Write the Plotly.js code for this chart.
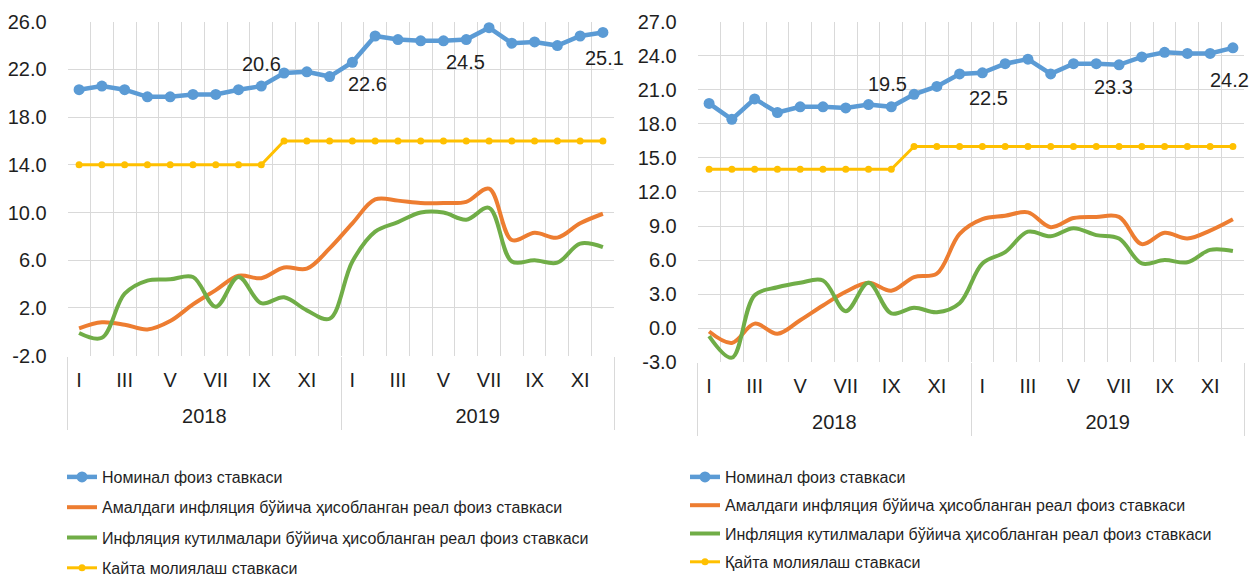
<!DOCTYPE html>
<html><head><meta charset="utf-8">
<script src="https://cdn.plot.ly/plotly-3.0.1.min.js"></script>
<style>html,body{margin:0;padding:0;background:#fff}#chart{width:1251px;height:578px}</style>
</head><body><div id="chart"></div>
<script>
// ---- data ----
const months = ['I','II','III','IV','V','VI','VII','VIII','IX','X','XI','XII'];
const years = ['2018','2019'];
const seriesNames = [
  'Номинал фоиз ставкаси',
  'Амалдаги инфляция бўйича ҳисобланган реал фоиз ставкаси',
  'Инфляция кутилмалари бўйича ҳисобланган реал фоиз ставкаси',
  'Қайта молиялаш ставкаси'
];
const seriesNamesL = [
  'Номинал фоиз ставкаси',
  'Амалдаги инфляция бўйича ҳисобланган реал фоиз ставкаси',
  'Инфляция кутилмалари бўйича ҳисобланган реал фоиз ставкаси',
  'Кайта молиялаш ставкаси'
];
// Left chart
const nominalL  = [20.3,20.6,20.3,19.7,19.7,19.9,19.9,20.3,20.6,21.7,21.8,21.4, 22.6,24.8,24.5,24.4,24.4,24.5,25.5,24.2,24.3,24.0,24.8,25.1];
const actualL   = [0.3,0.8,0.6,0.2,0.9,2.3,3.5,4.7,4.5,5.4,5.3,7.0, 9.1,11.1,11.0,10.8,10.8,10.9,12.0,7.7,8.3,7.9,9.1,9.9];
const expectL   = [-0.1,-0.5,3.2,4.3,4.4,4.6,2.1,4.6,2.4,2.9,1.8,1.1, 5.9,8.4,9.2,10.0,10.0,9.4,10.4,5.9,6.0,5.8,7.4,7.1];
const refiL     = [14,14,14,14,14,14,14,14,14,16,16,16, 16,16,16,16,16,16,16,16,16,16,16,16];
// Right chart
const nominalR  = [19.8,18.4,20.2,19.0,19.5,19.5,19.4,19.7,19.5,20.6,21.3,22.4, 22.5,23.3,23.7,22.4,23.3,23.3,23.2,23.9,24.3,24.2,24.2,24.7];
const actualR   = [-0.3,-1.3,0.4,-0.5,0.7,2.0,3.2,4.0,3.3,4.5,4.8,8.3, 9.6,9.9,10.2,8.9,9.7,9.8,9.8,7.4,8.4,7.9,8.6,9.6];
const expectR   = [-0.7,-2.6,2.9,3.6,4.0,4.2,1.5,4.0,1.3,1.8,1.4,2.2, 5.7,6.7,8.5,8.1,8.8,8.2,7.9,5.7,6.0,5.8,6.9,6.8];
const refiR     = [14,14,14,14,14,14,14,14,14,16,16,16, 16,16,16,16,16,16,16,16,16,16,16,16];
// data labels: [index, text]
const labelsL = [[8,'20.6'],[12,'22.6'],[17,'24.5'],[23,'25.1']];
const labelsR = [[8,'19.5'],[12,'22.5'],[18,'23.3'],[23,'24.2']];
const yTicksL = [-2,2,6,10,14,18,22,26];
const yTicksR = [-3,0,3,6,9,12,15,18,21,24,27];

// ---- build ----
const categories = [];
years.forEach(y => months.forEach(m => categories.push(m + ' ' + y)));
const xi = categories.map((_, i) => i);
const N = categories.length;
const gridVals = [];
for (let i = 0; i <= N; i++) gridVals.push(i - 0.5);
const monthVals = xi.filter(i => i % 2 === 0);
const monthText = monthVals.map(i => months[i % 12]);
const yearVals = years.map((_, k) => k * 12 + 5.5);
const sepVals = [-0.5].concat(years.map((_, k) => (k + 1) * 12 - 0.5));

const C = {blue:'#5B9BD5', orange:'#ED7D31', green:'#70AD47', yellow:'#FFC000'};
const GRID = '#d9d9d9';
const TXT = '#1f1f1f';
const FONT = 'Liberation Sans, Arial, sans-serif';

function tracesFor(xa, ya, leg, nom, act, exp, refi, names) {
  return [
    {x: xi, y: nom, name: names[0], xaxis: xa, yaxis: ya, legend: leg, legendgroup: leg+'a',
     mode: 'lines+markers', line: {color: C.blue, width: 4.5}, marker: {color: C.blue, size: 11}},
    {x: xi, y: act, name: names[1], xaxis: xa, yaxis: ya, legend: leg, legendgroup: leg+'b',
     mode: 'lines', line: {color: C.orange, width: 4, shape: 'spline', smoothing: 1}},
    {x: xi, y: exp, name: names[2], xaxis: xa, yaxis: ya, legend: leg, legendgroup: leg+'c',
     mode: 'lines', line: {color: C.green, width: 4, shape: 'spline', smoothing: 1}},
    {x: xi, y: refi, name: names[3], xaxis: xa, yaxis: ya, legend: leg, legendgroup: leg+'d',
     mode: 'lines+markers', line: {color: C.yellow, width: 3}, marker: {color: C.yellow, size: 7}}
  ];
}
// invisible carrier traces so that the overlaying label axes are drawn
function carrier(xa, ya) {
  return {x: xi, y: xi.map(() => null), xaxis: xa, yaxis: ya, mode: 'lines',
    showlegend: false, hoverinfo: 'skip', line: {color: 'rgba(0,0,0,0)'}};
}

const data = [].concat(
  tracesFor('x', 'y', 'legend', nominalL, actualL, expectL, refiL, seriesNamesL),
  tracesFor('x2', 'y2', 'legend2', nominalR, actualR, expectR, refiR, seriesNames),
  [carrier('x3', 'y'), carrier('x5', 'y'), carrier('x4', 'y2'), carrier('x6', 'y2')]
);

const xr = [-0.5, N - 0.5];
function mainX(domain, anchor) {
  return {domain: domain, anchor: anchor, range: xr, autorange: false, tickmode: 'array', tickvals: gridVals,
    showticklabels: false, ticks: '', showgrid: true, gridcolor: GRID, gridwidth: 1, zeroline: false, showline: false, fixedrange: true};
}
function monthX(domain, over, anchor) {
  return {domain: domain, overlaying: over, anchor: anchor, side: 'bottom', range: xr, autorange: false,
    tickmode: 'array', tickvals: monthVals, ticktext: monthText, ticks: 'outside', ticklen: 6,
    tickcolor: 'rgba(0,0,0,0)', showgrid: false, zeroline: false, showline: false,
    tickfont: {size: 20, color: TXT, family: FONT}};
}
function yearX(domain, over, anchor) {
  return {domain: domain, overlaying: over, anchor: anchor, side: 'bottom', range: xr, autorange: false,
    tickmode: 'array', tickvals: yearVals, ticktext: years, ticks: 'outside', ticklen: 42,
    tickcolor: 'rgba(0,0,0,0)', showgrid: false, zeroline: false, showline: false,
    tickfont: {size: 20, color: TXT, family: FONT},
    minor: {tickmode: 'array', tickvals: sepVals, ticks: 'outside', ticklen: 73, tickcolor: GRID, tickwidth: 1, showgrid: false}};
}
function yAx(domain, anchor, ticks) {
  return {domain: domain, anchor: anchor, range: [ticks[0], ticks[ticks.length-1]], autorange: false,
    tickmode: 'array', tickvals: ticks, ticktext: ticks.map(v => v.toFixed(1)),
    ticks: 'outside', ticklen: 16, tickcolor: 'rgba(0,0,0,0)',
    showgrid: true, gridcolor: GRID, gridwidth: 1, zeroline: false, showline: false,
    tickfont: {size: 20, color: TXT, family: FONT}};
}

const dL = [67.7/1251, 614.3/1251];
const dR = [697.7/1251, 1244.3/1251];
const yL = [1 - 355.7/578, 1 - 21.7/578];
const yR = [1 - 362.2/578, 1 - 21.7/578];

function ann(xa, ya, arr, lbls, shifts) {
  return lbls.map((l, k) => ({xref: xa, yref: ya, x: l[0], y: arr[l[0]], text: l[1], showarrow: false,
    xanchor: 'center', yanchor: 'middle', xshift: shifts[k][0], yshift: shifts[k][1],
    font: {size: 20, color: TXT, family: FONT}}));
}
const annotations = [].concat(
  ann('x', 'y', nominalL, labelsL, [[0, 22], [15, -22], [-1, -22], [2, -26]]),
  ann('x2', 'y2', nominalR, labelsR, [[-4, 23], [6, -25], [-6, -22], [-3, -32]])
);

const legendBase = {orientation: 'v', xanchor: 'left', yanchor: 'top', bgcolor: 'rgba(0,0,0,0)',
  font: {size: 16, color: TXT, family: FONT}, traceorder: 'grouped', itemwidth: 30};

const layout = {
  width: 1251, height: 578, margin: {l: 0, r: 0, t: 0, b: 0, autoexpand: false},
  paper_bgcolor: '#fff', plot_bgcolor: '#fff',
  font: {family: FONT, color: TXT},
  showlegend: true,
  xaxis: mainX(dL, 'y'), xaxis3: monthX(dL, 'x', 'y'), xaxis5: yearX(dL, 'x', 'y'),
  xaxis2: mainX(dR, 'y2'), xaxis4: monthX(dR, 'x2', 'y2'), xaxis6: yearX(dR, 'x2', 'y2'),
  yaxis: yAx(yL, 'x', yTicksL), yaxis2: yAx(yR, 'x2', yTicksR),
  legend: Object.assign({}, legendBase, {x: 62/1251, y: 1 - 460/578, tracegroupgap: 6.5}),
  legend2: Object.assign({}, legendBase, {x: 685/1251, y: 1 - 460/578, tracegroupgap: 4.5}),
  annotations: annotations
};

Plotly.newPlot('chart', data, layout, {staticPlot: true, displayModeBar: false});
</script>
</body></html>
